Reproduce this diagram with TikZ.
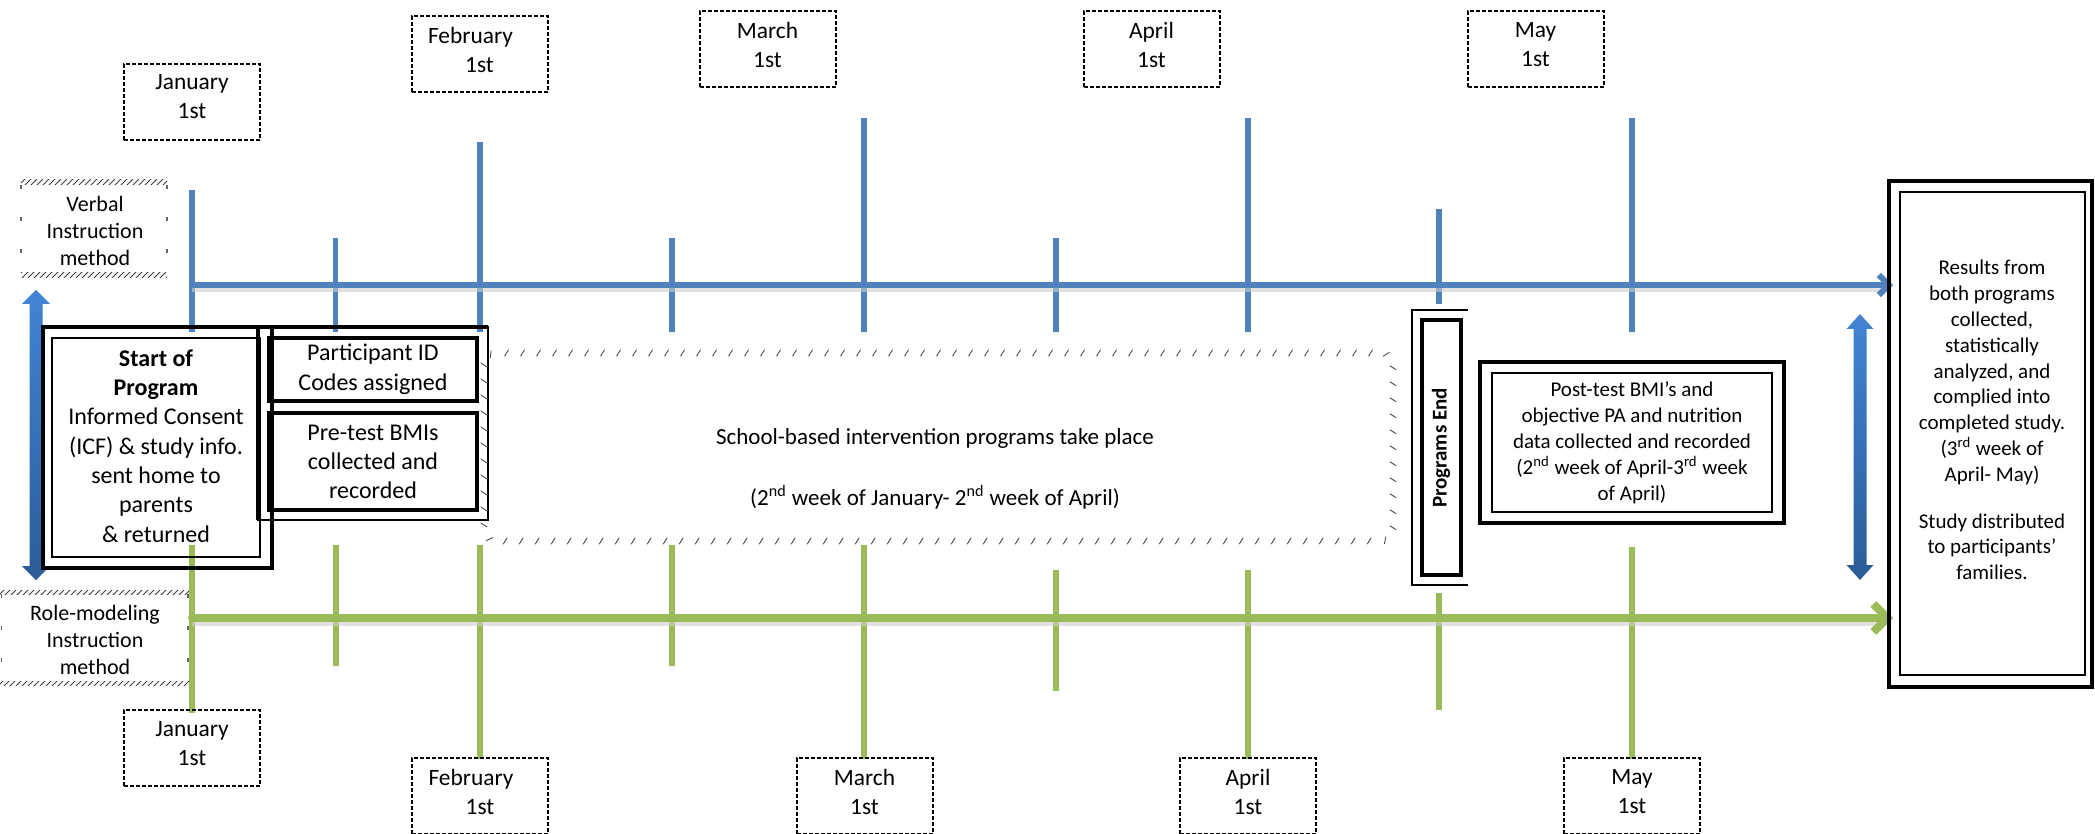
\documentclass[tikz,border=0pt]{standalone}
\usepackage{fontspec}
\setmainfont{Carlito}
\usetikzlibrary{arrows.meta,patterns,decorations.markings}
\definecolor{tlblue}{HTML}{4F81BD}
\definecolor{tlgreen}{HTML}{9BBB59}
\definecolor{arrL}{RGB}{66,132,212}
\definecolor{arrD}{RGB}{42,92,152}
\begin{document}
\begin{tikzpicture}[x=0.5pt,y=-0.5pt,
  bluetick/.style={tlblue, line width=2.6pt},
  greentick/.style={tlgreen, line width=3pt},
  shadowline/.style={black!20, opacity=0.6},
  monthbox/.style={draw, line width=1pt, dash pattern=on 2pt off 1pt,
    minimum width=68pt, minimum height=38pt, inner sep=0pt},
  monthtxt/.style={align=center, inner sep=0pt, font=\fontsize{11.7}{14.5}\selectfont},
  thickbox/.style={draw, line width=2pt, inner sep=0pt},
  thinbox/.style={draw, line width=1pt, inner sep=0pt, align=center},
  hatchband/.style={pattern=north east lines, pattern color=black!75},
  hatchside/.style={draw=black!60, line width=0.6pt, dash pattern=on 2pt off 14pt},
  slashborder/.style={postaction={decorate}, decoration={markings,
    mark=between positions 0 and 1 step 8pt with {\draw[black!70, line width=0.45pt] (-1pt,-1.6pt) -- (1pt,1.6pt);}}},
  txt/.style={align=center, inner sep=0pt}
]
\useasboundingbox (0,0) rectangle (2095,834);

% ---------- ticks ----------
\foreach \i/\x/\t/\b in {1/192/190/332, 2/335.5/238/332, 3/480/142/332, 4/672/238/332,
  5/864/118/332, 6/1056/238/332, 7/1248/118/332, 8/1439/209/304, 9/1632/118/332}{
  \coordinate (bt\i) at (\x,\t);
  \coordinate (bb\i) at (\x,\b);
  \draw[bluetick] (bt\i) -- (bb\i);
}
\foreach \i/\x/\t/\b in {1/192/545/713, 2/335.5/545/666, 3/480/545/759, 4/672/545/666,
  5/864/545/759, 6/1056/570/691, 7/1248/570/759, 8/1439/593/710, 9/1632/547/759}{
  \coordinate (gt\i) at (\x,\t);
  \coordinate (gb\i) at (\x,\b);
  \draw[greentick] (gt\i) -- (gb\i);
}

% ---------- main time lines ----------
\coordinate (bls) at (192,285);
\coordinate (ble) at (1893,285);
\coordinate (gls) at (192,618);
\coordinate (gle) at (1893,618);
\draw[shadowline, line width=3pt] ([yshift=-1.8pt]bls) -- ([yshift=-1.8pt,xshift=-6pt]ble);
\draw[shadowline, line width=4pt] ([yshift=-2pt]gls) -- ([yshift=-2pt,xshift=-8pt]gle);
\draw[tlblue, line width=3pt, line cap=round, -{Straight Barb[length=5pt,width=10pt]}] (bls) -- (ble);
\draw[tlgreen, line width=4pt, line cap=round, -{Straight Barb[length=7pt,width=14pt]}] (gls) -- (gle);

% ---------- month labels ----------
\node[monthbox] (tjan) at (192,102) {};
\node[monthtxt] (tjant) at (192,97) {January\\1st};
\node[monthbox] (tfeb) at (479.5,54) {};
\node[monthtxt] (tfebt) at (479.5,50) {February\hspace*{9pt}\\1st};
\node[monthbox] (tmar) at (767.5,49) {};
\node[monthtxt] (tmart) at (767.5,45) {March\\1st};
\node[monthbox] (tapr) at (1151.5,49) {};
\node[monthtxt] (taprt) at (1151.5,45) {April\\1st};
\node[monthbox] (tmay) at (1535.5,49) {};
\node[monthtxt] (tmayt) at (1535.5,45) {May\\1st};
\node[monthbox] (bjan) at (192,747.5) {};
\node[monthtxt] (bjant) at (192,744) {January\\1st};
\node[monthbox] (bfeb) at (480,795.5) {};
\node[monthtxt] (bfebt) at (480,792) {February\hspace*{9pt}\\1st};
\node[monthbox] (bmar) at (864.5,795.5) {};
\node[monthtxt] (bmart) at (864.5,792) {March\\1st};
\node[monthbox] (bapr) at (1248,795.5) {};
\node[monthtxt] (baprt) at (1248,792) {April\\1st};
\node[monthbox] (bmay) at (1632,795.5) {};
\node[monthtxt] (bmayt) at (1632,792) {May\\1st};

% ---------- method labels ----------
\fill[hatchband] (21,180) rectangle (167,185);
\fill[hatchband] (21,273) rectangle (167,278);
\draw[hatchside] (21,185) -- (21,273);
\draw[hatchside] (167,185) -- (167,273);
\node[txt, font=\fontsize{11}{13.3}\selectfont] (verbal) at (95,231) {Verbal\\Instruction\\method};

\fill[hatchband] (0,590) rectangle (189,594);
\fill[hatchband] (0,681) rectangle (189,685);
\draw[hatchside] (1.5,594) -- (1.5,681);
\draw[hatchside] (188,594) -- (188,681);
\node[txt, font=\fontsize{11}{13.5}\selectfont] (role) at (95,640) {Role-modeling\\Instruction\\method};

% ---------- left double arrow ----------
\shade[top color=arrL, bottom color=arrD]
  (36,290) -- (50,304) -- (42.5,304) -- (42.5,566) -- (50,566) -- (36,580) -- (22,566)
  -- (29.5,566) -- (29.5,304) -- (22,304) -- cycle;

% ---------- start of program ----------
\node[thickbox, minimum width=114.5pt, minimum height=120.5pt] (startout) at (157.5,447.5) {};
\node[thinbox, minimum width=104pt, minimum height=109.5pt] (startin) at (156,447.5) {};
\node[txt, font=\fontsize{12}{14.67}\selectfont] (start) at (156,446)
  {\textbf{Start of}\\\textbf{Program}\\Informed Consent\\(ICF) \& study info.\\sent home to\\parents\\\& returned};

% ---------- participant / pre-test group ----------
\draw[line width=0.8pt] (258,327) rectangle (488,520);
\draw[line width=1.6pt] (258,327) -- (488,327);
\draw[line width=1.6pt] (258,327) -- (258,520);
\node[thickbox, minimum width=104pt, minimum height=31.5pt, align=center,
  font=\fontsize{12}{15}\selectfont] (pid) at (373,369.5) {Participant ID\\Codes assigned};
\node[thickbox, minimum width=104pt, minimum height=48.5pt, align=center,
  font=\fontsize{12}{14.5}\selectfont] (pre) at (373,461.5) {Pre-test BMIs\\collected and\\recorded};

% ---------- intervention period ----------
\path[slashborder, rounded corners=6pt] (484,353) rectangle (1393,541);
\node[txt, font=\fontsize{11.5}{14}\selectfont] (school) at (935,438)
  {School-based intervention programs take place};
\node[txt, font=\fontsize{11.5}{14}\selectfont] (period) at (935,497)
  {(2\textsuperscript{nd} week of January- 2\textsuperscript{nd} week of April)};

% ---------- programs end ----------
\draw[line width=0.8pt] (1468,310) -- (1412,310) -- (1412,585) -- (1468,585);
\node[thickbox, minimum width=19.5pt, minimum height=127.5pt] (pendbox) at (1441.5,447.5) {};
\node[rotate=90, inner sep=0pt, font=\bfseries\fontsize{10.5}{12}\selectfont] (pend) at (1441,448) {Programs End};

% ---------- post-test ----------
\node[thickbox, minimum width=152pt, minimum height=80.5pt] (postout) at (1632,442.5) {};
\node[thinbox, minimum width=140pt, minimum height=69.5pt] (postin) at (1632,442.5) {};
\node[txt, font=\fontsize{10.5}{13}\selectfont] (post) at (1632,443)
  {Post-test BMI’s and\\objective PA and nutrition\\data collected and recorded\\(2\textsuperscript{nd} week of April-3\textsuperscript{rd} week\\of April)};

% ---------- right double arrow ----------
\shade[top color=arrL, bottom color=arrD]
  (1860,314) -- (1873.5,329) -- (1866.5,329) -- (1866.5,565) -- (1873.5,565) -- (1860,580)
  -- (1846.5,565) -- (1853.5,565) -- (1853.5,329) -- (1846.5,329) -- cycle;

% ---------- results ----------
\node[thickbox, minimum width=101.5pt, minimum height=253pt] (resout) at (1990.5,434) {};
\node[thinbox, minimum width=92.5pt, minimum height=241.5pt] (resin) at (1992.5,433.5) {};
\node[txt, font=\fontsize{10.5}{12.9}\selectfont] (res) at (1992,420)
  {Results from\\both programs\\collected,\\statistically\\analyzed, and\\complied into\\completed study.\\(3\textsuperscript{rd} week of\\April- May)\\[10.5pt]Study distributed\\to participants’\\families.};
\end{tikzpicture}
\end{document}
